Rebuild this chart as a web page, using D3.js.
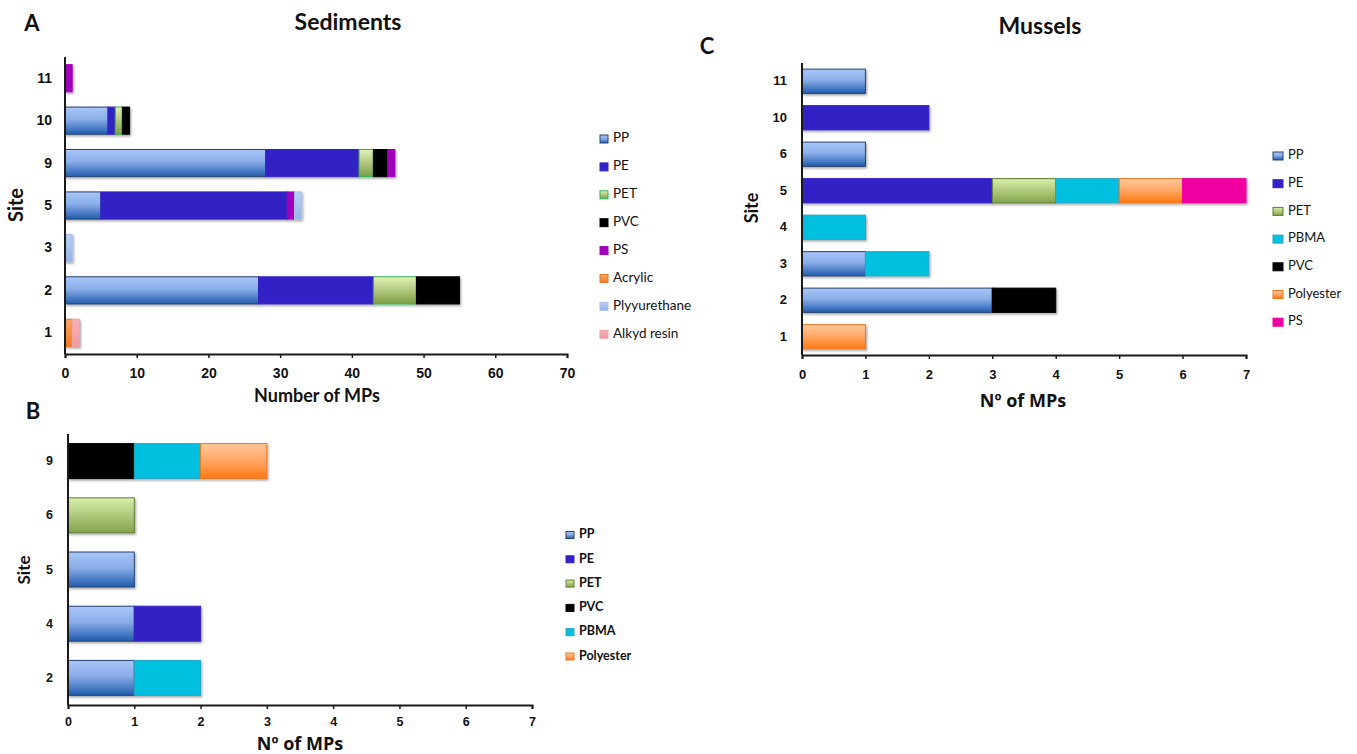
<!DOCTYPE html>
<html>
<head>
<meta charset="utf-8">
<script src="https://cdn.jsdelivr.net/npm/d3@7"></script>
<style>
  html, body { margin: 0; padding: 0; background: #fff; }
  svg { display: block; font-family: Lato, "Open Sans", sans-serif; }
</style>
</head>
<body>
<svg id="fig" width="1357" height="754"></svg>
<script>
// ---- Panel A: sediments ----
const sedSites = ["11", "10", "9", "5", "3", "2", "1"];
const sedTypes = ["PP", "PE", "PET", "PVC", "PS", "Acrylic", "Plyyurethane", "Alkyd resin"];
const sedPP    = [0, 6, 28, 5, 0, 27, 0];
const sedPE    = [0, 1, 13, 26, 0, 16, 0];
const sedPET   = [0, 1, 2, 0, 0, 6, 0];
const sedPVC   = [0, 1, 2, 0, 0, 6, 0];
const sedPS    = [1, 0, 1, 1, 0, 0, 0];
const sedAcr   = [0, 0, 0, 0, 0, 0, 1];
const sedPU    = [0, 0, 0, 1, 1, 0, 0];
const sedAlkyd = [0, 0, 0, 0, 0, 0, 1];
const sedTicks = [0, 10, 20, 30, 40, 50, 60, 70];

// ---- Panel B: water ----
const bSites = ["9", "6", "5", "4", "2"];
const bTypes = ["PP", "PE", "PET", "PVC", "PBMA", "Polyester"];
const bPP    = [0, 0, 1, 1, 1];
const bPE    = [0, 0, 0, 1, 0];
const bPET   = [0, 1, 0, 0, 0];
const bPVC   = [1, 0, 0, 0, 0];
const bPBMA  = [1, 0, 0, 0, 1];
const bPoly  = [1, 0, 0, 0, 0];
const bTicks = [0, 1, 2, 3, 4, 5, 6, 7];

// ---- Panel C: mussels ----
const musSites = ["11", "10", "6", "5", "4", "3", "2", "1"];
const musTypes = ["PP", "PE", "PET", "PBMA", "PVC", "Polyester", "PS"];
const musPP    = [1, 0, 1, 0, 0, 1, 3, 0];
const musPE    = [0, 2, 0, 3, 0, 0, 0, 0];
const musPET   = [0, 0, 0, 1, 0, 0, 0, 0];
const musPBMA  = [0, 0, 0, 1, 1, 1, 0, 0];
const musPVC   = [0, 0, 0, 0, 0, 0, 1, 0];
const musPoly  = [0, 0, 0, 1, 0, 0, 0, 1];
const musPS    = [0, 0, 0, 1, 0, 0, 0, 0];
const musTicks = [0, 1, 2, 3, 4, 5, 6, 7];

function rows(sites, types, cols) {
  return sites.map((s, i) => {
    const r = { site: s };
    types.forEach((t, j) => { r[t] = cols[j][i]; });
    return r;
  });
}

const svg = d3.select("#fig");
const defs = svg.append("defs");

// soft shadow under the bars
const sh = defs.append("filter").attr("id", "shadow")
  .attr("x", "-5%").attr("y", "-10%").attr("width", "115%").attr("height", "140%");
sh.append("feDropShadow").attr("dx", 1.2).attr("dy", 1.6)
  .attr("stdDeviation", 1.2).attr("flood-color", "#000").attr("flood-opacity", 0.35);

function grad(id, stops) {
  const g = defs.append("linearGradient").attr("id", id)
    .attr("x1", 0).attr("y1", 0).attr("x2", 0).attr("y2", 1);
  stops.forEach(([o, c]) => g.append("stop").attr("offset", o).attr("stop-color", c));
  return `url(#${id})`;
}

const fillPP   = grad("gPP",   [[0, "#a9c6f8"], [0.45, "#8aaee9"], [1, "#1f5cae"]]);
const fillPETa = grad("gPETa", [[0, "#e2f2b6"], [1, "#7c9d46"]]);
const fillPETc = grad("gPETc", [[0, "#d9eeab"], [1, "#84a54c"]]);
const fillPoly = grad("gPoly", [[0, "#ffc99c"], [0.5, "#ffa562"], [1, "#ff7812"]]);
const fillAcr  = grad("gAcr",  [[0, "#f9a566"], [1, "#f07a26"]]);
const fillPU   = grad("gPU",   [[0, "#b9d0f6"], [1, "#95b4e8"]]);
const fillAlk  = grad("gAlk",  [[0, "#f7b4b8"], [1, "#ef9aa0"]]);

const styleA = {
  "PP":           { fill: fillPP,   stroke: "#27436e" },
  "PE":           { fill: "#3322c6", stroke: "#3322c6" },
  "PET":          { fill: fillPETa, stroke: "#2fb34a" },
  "PVC":          { fill: "#000000", stroke: "#000000" },
  "PS":           { fill: "#a000bb", stroke: "#a000bb" },
  "Acrylic":      { fill: fillAcr,  stroke: "#e47a2c" },
  "Plyyurethane": { fill: fillPU,   stroke: "#a6bfea" },
  "Alkyd resin":  { fill: fillAlk,  stroke: "#f0a2a6" }
};
const styleBC = {
  "PP":        { fill: fillPP,   stroke: "#27436e" },
  "PE":        { fill: "#3322c6", stroke: "#3322c6" },
  "PET":       { fill: fillPETc, stroke: "#5e7d33" },
  "PVC":       { fill: "#000000", stroke: "#000000" },
  "PBMA":      { fill: "#00c0df", stroke: "#27a6c4" },
  "Polyester": { fill: fillPoly, stroke: "#e9781e" },
  "PS":        { fill: "#f000a0", stroke: "#f000a0" }
};

function panel(o) {
  const g = svg.append("g");
  const x = d3.scaleLinear().domain([0, o.ticks[o.ticks.length - 1]]).range(o.xr);
  const y = d3.scaleBand().domain(o.sites).range(o.yr)
    .paddingInner(o.pad).paddingOuter(o.pad / 2);

  const series = d3.stack().keys(o.types)(o.data);
  const layers = g.append("g").attr("filter", "url(#shadow)");
  series.forEach(s => {
    const st = o.style[s.key];
    layers.append("g").selectAll("rect")
      .data(s.filter(d => d[1] - d[0] > 0))
      .join("rect")
      .attr("x", d => x(d[0]))
      .attr("y", d => y(d.data.site))
      .attr("width", d => x(d[1]) - x(d[0]))
      .attr("height", y.bandwidth())
      .attr("fill", st.fill)
      .attr("stroke", st.stroke)
      .attr("stroke-width", 1);
  });

  // x axis
  const xa = g.append("g").attr("transform", `translate(0,${o.yr[1]})`)
    .call(d3.axisBottom(x).tickValues(o.ticks).tickSize(4).tickSizeOuter(4)
      .tickPadding(o.xpad).tickFormat(d3.format("d")));
  xa.select(".domain").attr("stroke", "#1a1a1a").attr("stroke-width", 2);
  xa.selectAll(".tick line").attr("stroke", "#1a1a1a").attr("stroke-width", 1.5);
  xa.selectAll("text").attr("font-size", o.xfs).attr("font-weight", 700).attr("fill", "#111");

  // y axis
  const ya = g.append("g").attr("transform", `translate(${o.xr[0]},0)`)
    .call(d3.axisLeft(y).tickSize(0).tickPadding(o.ypad));
  ya.select(".domain").attr("stroke", "#1a1a1a").attr("stroke-width", 2)
    .attr("d", `M0,${o.yr[0]}V${o.yr[1]}`);
  ya.selectAll("text").attr("font-size", o.yfs).attr("font-weight", 700).attr("fill", "#111");

  // axis titles
  g.append("text").attr("x", o.xt[0]).attr("y", o.xt[1])
    .attr("text-anchor", "middle").attr("dominant-baseline", "middle")
    .attr("font-family", o.xtff || null)
    .attr("font-size", o.xtfs).attr("font-weight", 700).attr("fill", "#111").text(o.xtitle);
  g.append("text").attr("transform", `translate(${o.yt[0]},${o.yt[1]}) rotate(-90)`)
    .attr("text-anchor", "middle").attr("dominant-baseline", "middle")
    .attr("font-size", o.ytfs).attr("font-weight", 700).attr("fill", "#111").text("Site");

  // legend
  const lg = g.append("g").attr("transform", `translate(${o.leg[0]},${o.leg[1]})`);
  o.types.forEach((t, i) => {
    const row = lg.append("g").attr("transform", `translate(0,${i * o.leg[2]})`);
    row.append("rect").attr("x", 0).attr("y", -o.sw[1] / 2)
      .attr("width", o.sw[0]).attr("height", o.sw[1])
      .attr("fill", o.style[t].fill).attr("stroke", o.style[t].stroke).attr("stroke-width", 1);
    row.append("text").attr("x", o.sw[0] + 5).attr("y", 0)
      .attr("dominant-baseline", "middle")
      .attr("font-size", o.lfs).attr("font-weight", o.lfw).attr("fill", "#111").text(t);
  });
}

panel({
  sites: sedSites, types: sedTypes, style: styleA,
  data: rows(sedSites, sedTypes, [sedPP, sedPE, sedPET, sedPVC, sedPS, sedAcr, sedPU, sedAlkyd]),
  ticks: sedTicks, xr: [65, 567], yr: [57, 354], pad: 0.36,
  xpad: 10, xfs: 14, ypad: 13, yfs: 14,
  xtitle: "Number of MPs", xt: [317, 397], xtfs: 18, yt: [18, 205], ytfs: 20,
  leg: [600, 139, 27.9], sw: [8, 8], lfs: 13.5, lfw: 400
});

panel({
  sites: bSites, types: bTypes, style: styleBC,
  data: rows(bSites, bTypes, [bPP, bPE, bPET, bPVC, bPBMA, bPoly]),
  ticks: bTicks, xr: [68, 532], yr: [434, 705], pad: 0.355,
  xpad: 8, xfs: 12.5, ypad: 15, yfs: 12.5,
  xtitle: "Nº of MPs", xt: [300, 745], xtfs: 18, xtff: "'Open Sans', Lato, sans-serif",
  yt: [26, 570], ytfs: 17,
  leg: [566, 535, 24.3], sw: [8, 7], lfs: 12.5, lfw: 700
});

panel({
  sites: musSites, types: musTypes, style: styleBC,
  data: rows(musSites, musTypes, [musPP, musPE, musPET, musPBMA, musPVC, musPoly, musPS]),
  ticks: musTicks, xr: [802, 1246], yr: [63, 355], pad: 0.335,
  xpad: 11, xfs: 13, ypad: 15, yfs: 13,
  xtitle: "Nº of MPs", xt: [1023, 402], xtfs: 18, xtff: "'Open Sans', Lato, sans-serif",
  yt: [753, 208], ytfs: 18,
  leg: [1273, 156, 27.7], sw: [10, 8], lfs: 13, lfw: 400
});

// panel letters and titles
const labels = [
  { t: "A", x: 32, y: 25, fs: 22 },
  { t: "Sediments", x: 348, y: 24, fs: 23 },
  { t: "B", x: 33, y: 413, fs: 22 },
  { t: "C", x: 707, y: 48, fs: 22 },
  { t: "Mussels", x: 1040, y: 28, fs: 23 }
];
svg.append("g").selectAll("text").data(labels).join("text")
  .attr("x", d => d.x).attr("y", d => d.y)
  .attr("text-anchor", "middle").attr("dominant-baseline", "middle")
  .attr("font-size", d => d.fs).attr("font-weight", 700).attr("fill", "#111")
  .text(d => d.t);
</script>
</body>
</html>
